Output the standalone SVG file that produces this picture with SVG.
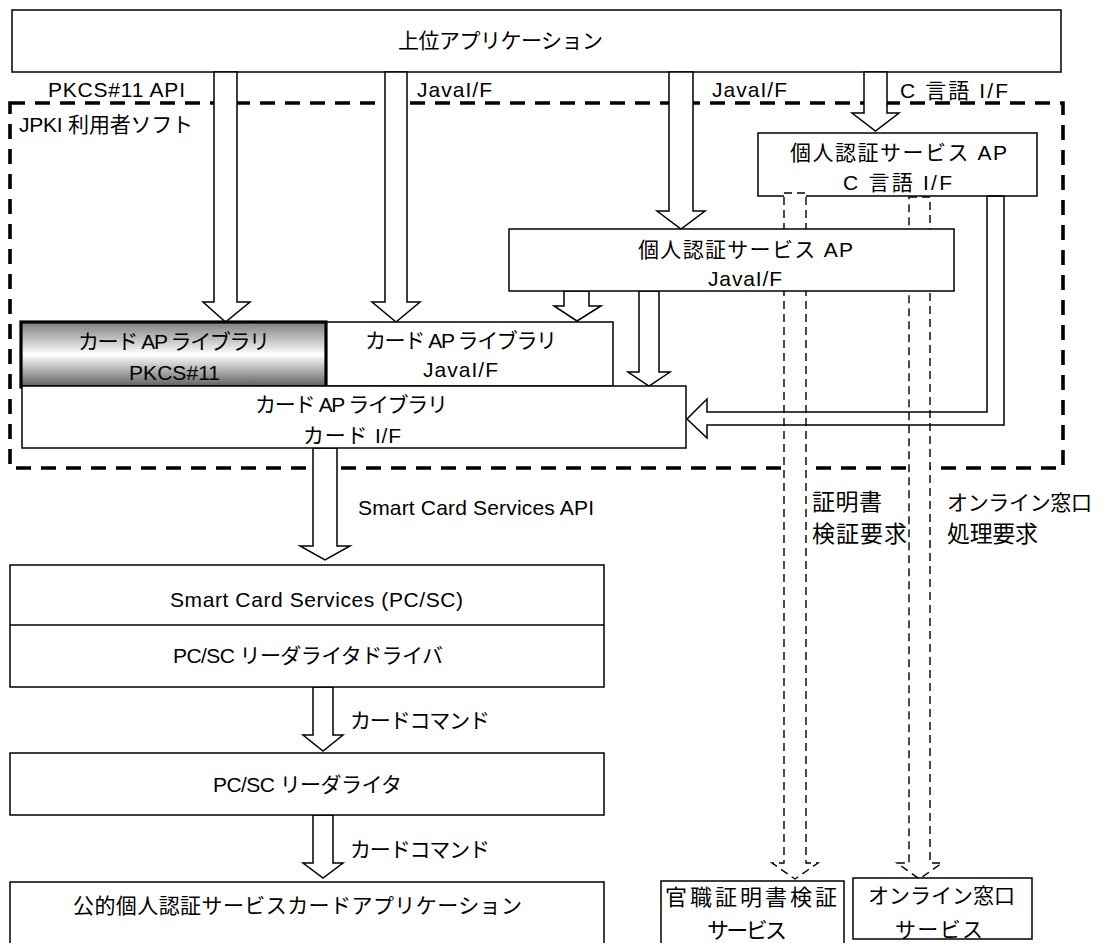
<svg xmlns="http://www.w3.org/2000/svg" width="1105" height="943" viewBox="0 0 1105 943">
<defs>
<linearGradient id="grad" x1="0" y1="0" x2="0" y2="1">
<stop offset="0" stop-color="#7c7c7c"/>
<stop offset="0.5" stop-color="#ffffff"/>
<stop offset="1" stop-color="#5c5c5c"/>
</linearGradient>
<style>
.t{font-family:"Liberation Sans","Noto Sans CJK JP",sans-serif;font-size:21px;fill:#000}
.big{font-size:23px}
.mid{font-size:22px}
.box{fill:#fff;stroke:#000;stroke-width:1.5}
.blk{fill:#fff;stroke:#000;stroke-width:1.5;stroke-linejoin:miter}
.dsh{fill:#fff;stroke:#000;stroke-width:1.4;stroke-dasharray:8 5}
.lar{fill:none;stroke:#000;stroke-width:1.5}
.bnd{fill:none;stroke:#000;stroke-width:3.6;stroke-dasharray:15 10}
</style>
</defs>
<rect width="1105" height="943" fill="#fff"/>

<g id="jpki">
<rect class="bnd" x="10" y="103" width="1053" height="365"/>
<text class="t" x="19" y="132" textLength="174">JPKI 利用者ソフト</text>
</g>

<g id="app">
<rect class="box" x="12" y="10" width="1049" height="62"/>
<text class="t" x="398" y="48" textLength="205">上位アプリケーション</text>
</g>

<g id="ap-c">
<rect class="box" x="758" y="133" width="279" height="63"/>
<text class="t" x="790" y="160" textLength="217">個人認証サービス AP</text>
<text class="t" x="843" y="190" textLength="109">C 言語 I/F</text>
</g>

<g id="connectors">
<polygon class="blk" points="214,72 237,72 237,302 250,302 225.5,322 203,302 214,302"/>
<polygon class="blk" points="385,72 407,72 407,302 420,302 396,322 372,302 385,302"/>
<polygon class="blk" points="669,72 693,72 693,211 705,211 681,229 657,211 669,211"/>
<polygon class="blk" points="864,72 887,72 887,113 899,113 875.5,131 852,113 864,113"/>
<polygon class="dsh" points="784,193 806,193 806,863 818,863 795,879 772,863 784,863"/>
<polygon class="dsh" points="909,197 930,197 930,863 942,863 919.5,879 897,863 909,863"/>
<polygon class="blk" points="564,291 589,291 589,306 601,306 577,321 554,306 564,306"/>
<polygon class="blk" points="639,291 659,291 659,372 670,372 649,386 628,372 639,372"/>
<polygon class="lar" points="1004,196 1004,425 707,425 707,438 687,419 707,399 707,412 987,412 987,196"/>
<polygon class="blk" points="313,448 337,448 337,546 350,546 325,560 300,546 313,546"/>
<polygon class="blk" points="313,687 333,687 333,735 343,735 323,751 303,735 313,735"/>
<polygon class="blk" points="313,815 333,815 333,863 343,863 323,878 303,863 313,863"/>
<text class="t" x="48" y="97" textLength="137">PKCS#11 API</text>
<text class="t" x="417" y="97" textLength="75">JavaI/F</text>
<text class="t" x="712" y="97" textLength="75">JavaI/F</text>
<text class="t" x="900" y="98" textLength="108">C 言語 I/F</text>
<text class="t" x="358" y="515" textLength="236">Smart Card Services API</text>
<text class="t big" x="812" y="510" textLength="70">証明書</text>
<text class="t big" x="812" y="542" textLength="95">検証要求</text>
<text class="t" x="947" y="510" textLength="145">オンライン窓口</text>
<text class="t big" x="947" y="542" textLength="91">処理要求</text>
<text class="t" x="350" y="728" textLength="140">カードコマンド</text>
<text class="t" x="350" y="857" textLength="140">カードコマンド</text>
</g>

<g id="ap-java">
<rect class="box" x="509" y="229" width="445" height="62"/>
<text class="t" x="638" y="257" textLength="215">個人認証サービス AP</text>
<text class="t" x="708" y="286" textLength="74">JavaI/F</text>
</g>

<g id="lib-java">
<rect class="box" x="326" y="322" width="287" height="64"/>
<text class="t" x="365" y="348" textLength="192">カード AP ライブラリ</text>
<text class="t" x="423" y="377" textLength="75">JavaI/F</text>
</g>

<g id="lib-pkcs">
<rect x="21" y="322" width="305" height="65" fill="url(#grad)" stroke="#000" stroke-width="3.2"/>
<text class="t" x="78" y="349" textLength="192">カード AP ライブラリ</text>
<text class="t" x="129" y="380" textLength="91">PKCS#11</text>
</g>

<g id="lib-card">
<rect class="box" x="22" y="386" width="664" height="62"/>
<text class="t" x="255" y="412" textLength="193">カード AP ライブラリ</text>
<text class="t" x="303" y="443" textLength="98">カード I/F</text>
</g>

<g id="pcsc">
<rect class="box" x="10" y="565" width="594" height="122"/>
<line x1="10" y1="625" x2="604" y2="625" stroke="#000" stroke-width="1.5"/>
<text class="t" x="170" y="607" textLength="293">Smart Card Services (PC/SC)</text>
<text class="t" x="173" y="663" textLength="270">PC/SC リーダライタドライバ</text>
</g>

<g id="reader">
<rect class="box" x="10" y="753" width="594" height="62"/>
<text class="t" x="213" y="792" textLength="189">PC/SC リーダライタ</text>
</g>

<g id="card-app">
<rect class="box" x="10" y="882" width="594" height="70"/>
<text class="t" x="73" y="913" textLength="449">公的個人認証サービスカードアプリケーション</text>
</g>

<g id="svc-verify">
<rect class="box" x="661" y="881" width="183" height="70"/>
<text class="t mid" x="665" y="905" textLength="172">官職証明書検証</text>
<text class="t mid" x="707" y="938" textLength="80">サービス</text>
</g>

<g id="svc-online">
<rect class="box" x="853" y="878" width="179" height="61"/>
<text class="t" x="868" y="903" textLength="147">オンライン窓口</text>
<text class="t" x="895" y="937" textLength="88">サービス</text>
</g>
</svg>
